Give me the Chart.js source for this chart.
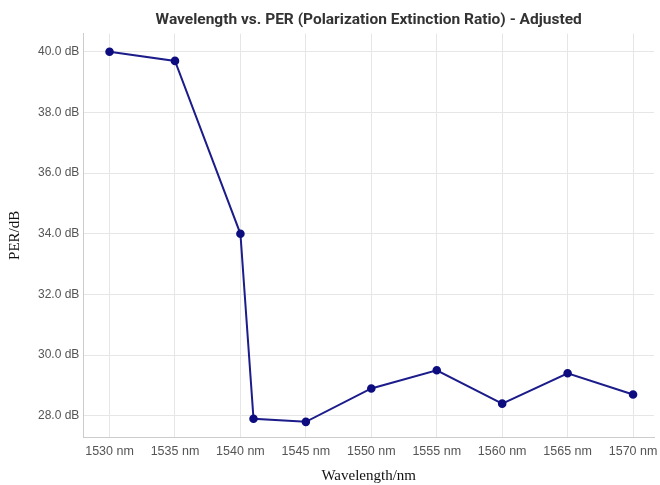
<!DOCTYPE html>
<html>
<head>
<meta charset="utf-8">
<script src="https://cdn.jsdelivr.net/npm/chart.js@4"></script>
<style>
  html, body { margin: 0; padding: 0; background: #fff; }
  #wrap { width: 660px; height: 485px; }
</style>
</head>
<body>
<div id="wrap"><canvas id="chart"></canvas></div>
<script>
const wavelengths = [1530, 1535, 1540, 1541, 1545, 1550, 1555, 1560, 1565, 1570];
const perValues = [40.0, 39.7, 34.0, 27.9, 27.8, 28.9, 29.5, 28.4, 29.4, 28.7];
const xTicks = [1530, 1535, 1540, 1545, 1550, 1555, 1560, 1565, 1570];
const yTicks = [28, 30, 32, 34, 36, 38, 40];

const points = wavelengths.map((w, i) => ({ x: w, y: perValues[i] }));

new Chart(document.getElementById('chart'), {
    type: 'line',
    data: {
        datasets: [{
            data: points,
            borderColor: '#1c1c8a',
            backgroundColor: '#0d0d80',
            borderWidth: 2,
            pointRadius: 3.3,
            pointBackgroundColor: '#0d0d80',
            pointBorderColor: '#0d0d80',
            tension: 0
        }]
    },
    options: {
        responsive: true,
        maintainAspectRatio: false,
        animation: false,
        layout: { padding: { top: 0, right: 1, left: 6, bottom: 0 } },
        plugins: {
            legend: { display: false },
            title: {
                display: true,
                fullSize: false,
                text: 'Wavelength vs. PER (Polarization Extinction Ratio) - Adjusted',
                color: '#333',
                font: { family: 'Roboto', size: 15.5, weight: 'bold' },
                padding: { top: 11, bottom: 4 }
            }
        },
        scales: {
            x: {
                type: 'linear',
                min: 1528,
                max: 1571.6,
                afterBuildTicks: axis => { axis.ticks = xTicks.map(v => ({ value: v })); },
                afterFit: axis => { axis.paddingLeft = 0; axis.paddingRight = 0; },
                ticks: {
                    callback: v => v + ' nm',
                    color: '#555',
                    font: { family: 'Liberation Sans', size: 12.5 },
                    maxRotation: 0,
                    padding: 7
                },
                grid: { color: '#e6e6e6', drawTicks: false },
                border: { color: '#cccccc' },
                title: {
                    display: true,
                    text: 'Wavelength/nm',
                    color: '#111',
                    font: { family: 'Liberation Serif', size: 15 },
                    padding: { top: 1, bottom: 0 }
                }
            },
            y: {
                min: 27.3,
                max: 40.6,
                afterBuildTicks: axis => { axis.ticks = yTicks.map(v => ({ value: v })); },
                ticks: {
                    callback: v => v.toFixed(1) + ' dB',
                    color: '#555',
                    font: { family: 'Liberation Sans', size: 12 },
                    padding: 4
                },
                grid: { color: '#e6e6e6', drawTicks: false },
                border: { color: '#cccccc' },
                title: {
                    display: true,
                    text: 'PER/dB',
                    color: '#111',
                    font: { family: 'Liberation Serif', size: 15 },
                    padding: { top: 0, bottom: 10 }
                }
            }
        }
    }
});
</script>
</body>
</html>
